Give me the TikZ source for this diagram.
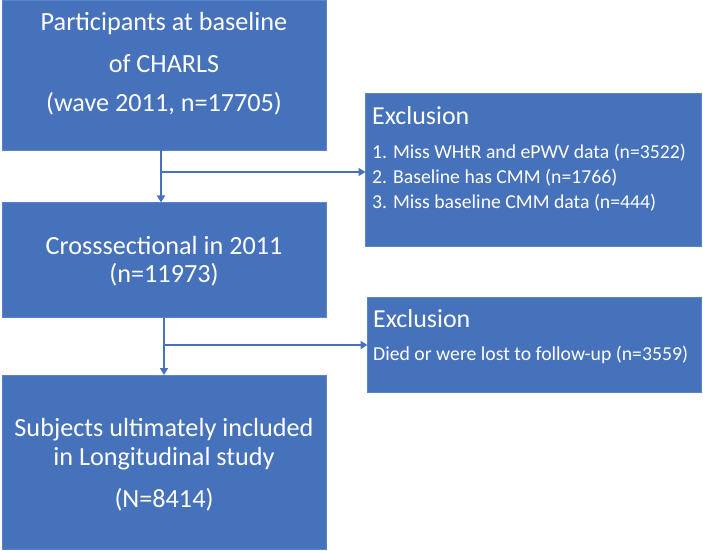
\documentclass[tikz,border=0pt]{standalone}
\usepackage{fontspec}
\setmainfont{Carlito}
\usetikzlibrary{arrows.meta}
\definecolor{boxblue}{HTML}{4672BB}
\definecolor{edgeblue}{HTML}{5B84C8}
\begin{document}
\begin{tikzpicture}[x=1bp,y=-1bp,
  box/.style={draw=edgeblue,line width=0.8bp,fill=boxblue,rectangle,inner sep=0pt,outer sep=0pt},
  big/.style={text=white,font=\fontsize{26.3}{30}\selectfont,inner sep=0pt,anchor=center},
  title/.style={text=white,font=\fontsize{26}{30}\selectfont,inner sep=0pt,anchor=west},
  small/.style={text=white,font=\fontsize{19.8}{24}\selectfont,inner sep=0pt,anchor=west},
  arr/.style={draw=boxblue,line width=1.8bp,-{Triangle[length=7bp,width=8bp]}}]
\useasboundingbox (0,0) rectangle (703,551);
% boxes
\node[box,minimum width=324bp,minimum height=150bp] (b1) at (164,75) {};
\node[box,minimum width=324bp,minimum height=115bp] (b2) at (164,260) {};
\node[box,minimum width=324bp,minimum height=174bp] (b3) at (164,462) {};
\node[box,minimum width=336bp,minimum height=153bp] (e1) at (533.5,169.5) {};
\node[box,minimum width=334bp,minimum height=95bp] (e2) at (534.5,344.5) {};
% texts box1
\node[big] (t11) at (164,24) {Participants at baseline};
\node[big] (t12) at (164,64) {of CHARLS};
\node[big] (t13) at (164,104) {(wave 2011, n=17705)};
% box2
\node[big] (t21) at (164,245) {Crosssectional in 2011};
\node[big] (t22) at (164,275) {(n=11973)};
% box3
\node[big] (t31) at (164,430) {Subjects ultimately included};
\node[big] (t32) at (164,459) {in Longitudinal study};
\node[big] (t33) at (164,500) {(N=8414)};
% exclusion 1
\node[title] (x1) at (372,116) {Exclusion};
\node[small] (x11) at (372,153) {1. Miss WHtR and ePWV data (n=3522)};
\node[small] (x12) at (372,178) {2. Baseline has CMM (n=1766)};
\node[small] (x13) at (372,203) {3. Miss baseline CMM data (n=444)};
% exclusion 2
\node[title] (x2) at (373,319) {Exclusion};
\node[small] (x21) at (373,355) {Died or were lost to follow-up (n=3559)};
% connectors
\coordinate (j1) at (161,172);
\coordinate (j2) at (164,345);
\draw[arr] (b1.south -| j1) -- (b2.north -| j1);
\draw[arr] (j1) -- (j1 -| e1.west);
\draw[arr] (b2.south -| j2) -- (b3.north -| j2);
\draw[arr] (j2) -- (j2 -| e2.west);
\end{tikzpicture}
\end{document}
